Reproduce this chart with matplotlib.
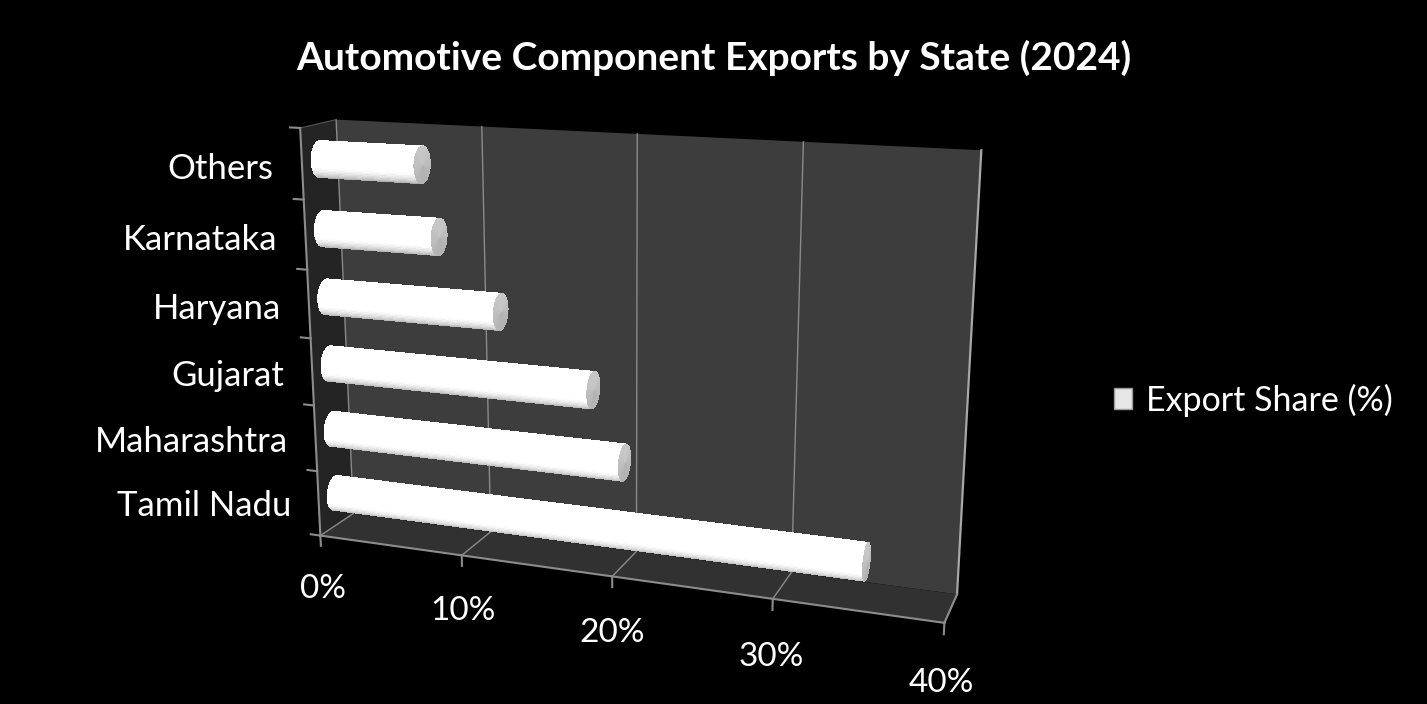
import numpy as np
import matplotlib
matplotlib.use("Agg")
import matplotlib.pyplot as plt
from matplotlib.patches import Patch
from mpl_toolkits.mplot3d.art3d import Poly3DCollection

# data (bottom to top, as drawn)
states = ["Tamil Nadu", "Maharashtra", "Gujarat", "Haryana", "Karnataka", "Others"]
share = [35, 20, 18, 12, 8, 7]
xticks = [0, 10, 20, 30, 40]
xticklabels = ["0%", "10%", "20%", "30%", "40%"]
series_name = "Export Share (%)"
title = "Automotive Component Exports by State (2024)"

plt.rcParams['font.family'] = ['Lato', 'DejaVu Sans']

fig = plt.figure(figsize=(14.27, 7.04), dpi=100, facecolor='black')
ax = fig.add_axes([0.1559, -0.0800, 0.5487, 1.1122], projection='3d',
                  computed_zorder=False)
ax.set_axis_off()
ax.patch.set_visible(False)
ax.set_proj_type('persp', focal_length=0.4)
ax.view_init(elev=15, azim=-70)
ax.set_box_aspect((1.56, 0.17, 1.02))

xmax = xticks[-1]
zmax = len(states)
ax.set_xlim(0, xmax)
ax.set_ylim(0, 1)
ax.set_zlim(0, zmax)

# walls and floor
back = [(0, 1, 0), (xmax, 1, 0), (xmax, 1, zmax), (0, 1, zmax)]
left = [(0, 0, 0), (0, 1, 0), (0, 1, zmax), (0, 0, zmax)]
floor = [(0, 0, 0), (xmax, 0, 0), (xmax, 1, 0), (0, 1, 0)]
ax.add_collection3d(Poly3DCollection([back], facecolors='#3d3d3d', edgecolors='none', zorder=1))
ax.add_collection3d(Poly3DCollection([left], facecolors='#242424', edgecolors='none', zorder=1))
ax.add_collection3d(Poly3DCollection([floor], facecolors='#313131', edgecolors='none', zorder=1))

gc = '#8a8a8a'
for xv in xticks[1:-1]:
    ax.plot([xv, xv], [1, 1], [0, zmax], color=gc, lw=1.0, zorder=2)
for xv in xticks:
    ax.plot([xv, xv], [1, 0], [0, 0], color=gc, lw=1.0, zorder=2)
ax.plot([0, 0], [1, 1], [0, zmax], color=gc, lw=1.0, zorder=2)
ax.plot([0, 0], [0, 1], [zmax, zmax], color='#555555', lw=0.8, zorder=2)
ax.plot([xmax, xmax], [1, 1], [0, zmax], color='#a8a8a8', lw=1.6, zorder=2)

# cylinders (only the half facing the viewer)
yc, ry, rz = 0.5, 0.25, 0.26
theta = np.radians(np.linspace(55, 285, 116))
light = np.array([0.0, -1.0, 0.9])
light = light / np.linalg.norm(light)
for i, v in enumerate(share):
    zc = i + 0.5
    X, T = np.meshgrid([0, v], theta)
    Y = yc + ry * np.cos(T)
    Z = zc + rz * np.sin(T)
    dot = np.cos(T) * light[1] + np.sin(T) * light[2]
    inten = np.clip(0.8 + 0.37 * dot, 0.58, 1.0)
    cols = np.stack([inten, inten, inten, np.ones_like(inten)], axis=-1)
    ax.plot_surface(X, Y, Z, facecolors=cols, shade=False, linewidth=0,
                    antialiased=False, zorder=3 + i * 0.01)
    tc = np.linspace(0, 2 * np.pi, 73)
    R, T2 = np.meshgrid([0, 1], tc)
    Yc = yc + ry * R * np.cos(T2)
    Zc = zc + rz * R * np.sin(T2)
    Xc = np.full_like(Yc, v)
    ci = 0.74 + 0.04 * np.sin(T2)
    ccols = np.stack([ci, ci, ci, np.ones_like(ci)], axis=-1)
    ax.plot_surface(Xc, Yc, Zc, facecolors=ccols, shade=False, linewidth=0,
                    antialiased=False, zorder=3.5 + i * 0.01)

# axes lines and ticks
ac = '#8c8c8c'
ax.plot([0, 0], [0, 0], [0, zmax], color=ac, lw=1.5, zorder=5)
ax.plot([0, xmax], [0, 0], [0, 0], color=ac, lw=1.5, zorder=5)
ax.plot([xmax, xmax], [0, 1], [0, 0], color=ac, lw=1.5, zorder=5)
for k in range(zmax + 1):
    ax.plot([-0.7, 0], [0, 0], [k, k], color=ac, lw=1.5, zorder=5)
for xv in xticks:
    ax.plot([xv, xv], [0, 0], [0, -0.16], color=ac, lw=1.5, zorder=5)

# labels as plain 2D text at projected positions
fig.canvas.draw()


def to2d(x, y, z):
    p = ax.M @ np.array([x, y, z, 1.0])
    return p[0] / p[3], p[1] / p[3]


for i, s in enumerate(states):
    px, py = to2d(-2.0, 0, i + 0.4)
    ax.text2D(px, py, s, transform=ax.transData, ha='right', va='center',
              color='white', fontsize=25)
for xv, lab in zip(xticks, xticklabels):
    px, py = to2d(xv, 0, -0.85)
    ax.text2D(px, py, lab, transform=ax.transData, ha='center', va='center',
              color='white', fontsize=24)

fig.text(0.5, 1 - 58 / 704, title, ha='center', va='center', color='white',
         fontsize=28, fontweight='bold')

fig.legend(handles=[Patch(facecolor='#e6e6e6', edgecolor='#9a9a9a')],
           labels=[series_name], loc='center left',
           bbox_to_anchor=(1083 / 1427, 1 - 400 / 704), frameon=False,
           labelcolor='white', fontsize=24.5, handlelength=0.55,
           handleheight=0.55, handletextpad=0.4)

fig.savefig("out.png", dpi=100, facecolor='black')
